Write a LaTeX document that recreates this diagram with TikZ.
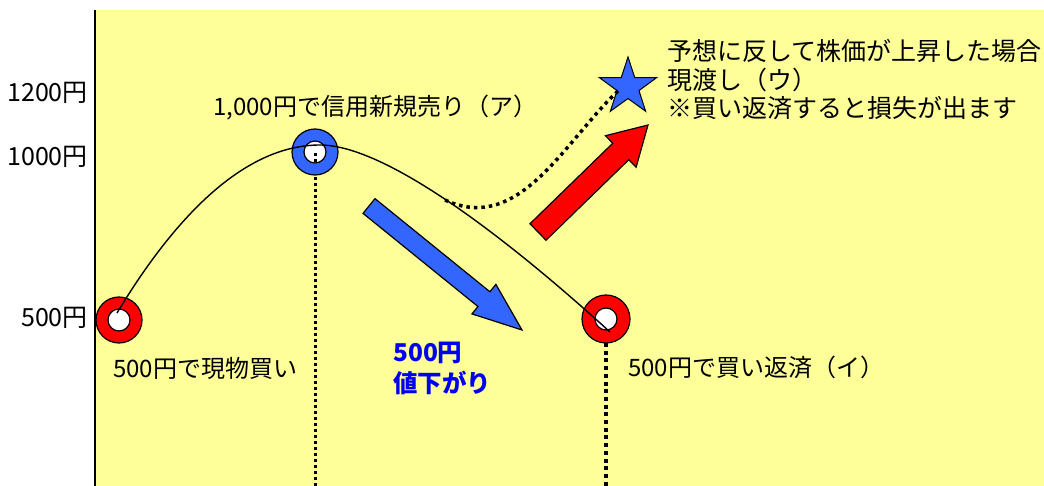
\documentclass[tikz,border=0pt]{standalone}
\usepackage{fontspec}
\setmainfont{Noto Sans CJK JP}
\usetikzlibrary{calc,shapes.geometric}
\definecolor{bgyellow}{HTML}{FFFF99}
\definecolor{ringblue}{HTML}{3366FF}
\definecolor{ringred}{HTML}{FF0000}
\definecolor{txtblue}{HTML}{0000F0}
\newcommand\fatarrow[6]{%
  \coordinate (#1-h) at ($(#2)!#5!(#1)$);
  \path[fatarrowstyle, fill=#6]
    ($(#1)!#3!90:(#2)$) -- ($(#1-h)!#3!90:(#2)$) -- ($(#1-h)!#4!90:(#2)$) --
    (#2) -- ($(#1-h)!#4!-90:(#2)$) -- ($(#1-h)!#3!-90:(#2)$) --
    ($(#1)!#3!-90:(#2)$) -- cycle;}
\begin{document}
\begin{tikzpicture}[x=1pt,y=-1pt,
  lbl/.style={inner sep=0pt, font=\fontsize{24}{28}\selectfont},
  biglbl/.style={inner sep=0pt, font=\fontsize{25}{28.5}\selectfont},
  bluelbl/.style={inner sep=0pt, text=txtblue, align=left, font=\bfseries\fontsize{24.5}{31}\selectfont},
  hole/.style={circle, fill=white, minimum size=22pt, inner sep=0pt},
  ring/.style={draw=black, line width=1.2pt, even odd rule},
  fatarrowstyle/.style={draw=black, line width=1.2pt, line join=miter},
  curveline/.style={draw=black, line width=1.4pt},
  dotv/.style={draw=black, line width=3pt, dash pattern=on 3pt off 3pt},
  dotvthick/.style={draw=black, line width=4pt, dash pattern=on 4pt off 3.7pt},
  dotc/.style={draw=black, line width=3.5pt, dash pattern=on 3.5pt off 4pt}]
\useasboundingbox (0,0) rectangle (1044,486);
\fill[white] (0,0) rectangle (1044,486);
\fill[bgyellow] (95,10) rectangle (1044,486);
\coordinate (axtop) at (95,10);
\coordinate (axbot) at (95,486);
\draw[line width=2.5pt] (axtop) -- (axbot);

% axis labels
\node[biglbl, anchor=east] (l1200) at (88,93) {1200円};
\node[biglbl, anchor=east] (l1000) at (88,157) {1000円};
\node[biglbl, anchor=east] (l500) at (88,318) {500円};

% ring centres
\coordinate (r1) at (119,320);
\coordinate (r2) at (315,152);
\coordinate (r3) at (606,319);

% holes
\node[hole] (h1) at (r1) {};
\node[hole] (h2) at (r2) {};
\node[hole] (h3) at (r3) {};

% dotted verticals
\coordinate (v2a) at (315,153);
\coordinate (v2b) at (315,486);
\coordinate (v3a) at (606,343);
\coordinate (v3b) at (606,486);
\draw[dotv] (v2a) -- (v2b);
\draw[dotvthick] (v3a) -- (v3b);

% rings
\path[ring, fill=ringred] (r1) circle[radius=23pt] (r1) circle[radius=11pt];
\path[ring, fill=ringblue] (r2) circle[radius=23pt] (r2) circle[radius=11pt];
\path[ring, fill=ringred] (r3) circle[radius=24pt] (r3) circle[radius=11pt];

% main price curve
\coordinate (c1) at (117,313);
\coordinate (c2) at (320,145);
\coordinate (c3) at (610,332);
\draw[curveline] (c1) .. controls (170,225) and (240,145) .. (c2)
                      .. controls (390,145) and (520,250) .. (c3);

% star
\node[star, star points=5, star point ratio=2.6, minimum size=60pt, inner sep=0pt,
      draw=black, line width=1pt, fill=ringblue] (star) at (628,87) {};

% dotted curve
\coordinate (d1) at (445,200);
\coordinate (d2) at (620,89);
\draw[dotc] (d1) .. controls (520,235) and (565,140) .. (d2);

% fat arrows
\coordinate (bt) at (369,206);
\coordinate (bp) at (522,330);
\fatarrow{bt}{bp}{9.5pt}{19pt}{49pt}{ringblue}
\coordinate (rt) at (538,232);
\coordinate (rp) at (648,125);
\fatarrow{rt}{rp}{11.5pt}{22pt}{38pt}{ringred}

% texts
\node[lbl, anchor=west] (tA) at (213,108) {1,000円で信用新規売り（ア）};
\node[lbl, anchor=west] (tbuy) at (113,368) {500円で現物買い};
\node[lbl, anchor=west] (tI) at (628,367) {500円で買い返済（イ）};
\node[biglbl, anchor=west, align=left] (tU) at (667,80)
  {予想に反して株価が上昇した場合\\現渡し（ウ）\\※買い返済すると損失が出ます};
\node[bluelbl, anchor=west] (tdown) at (393,368) {500円\\値下がり};
\end{tikzpicture}
\end{document}
